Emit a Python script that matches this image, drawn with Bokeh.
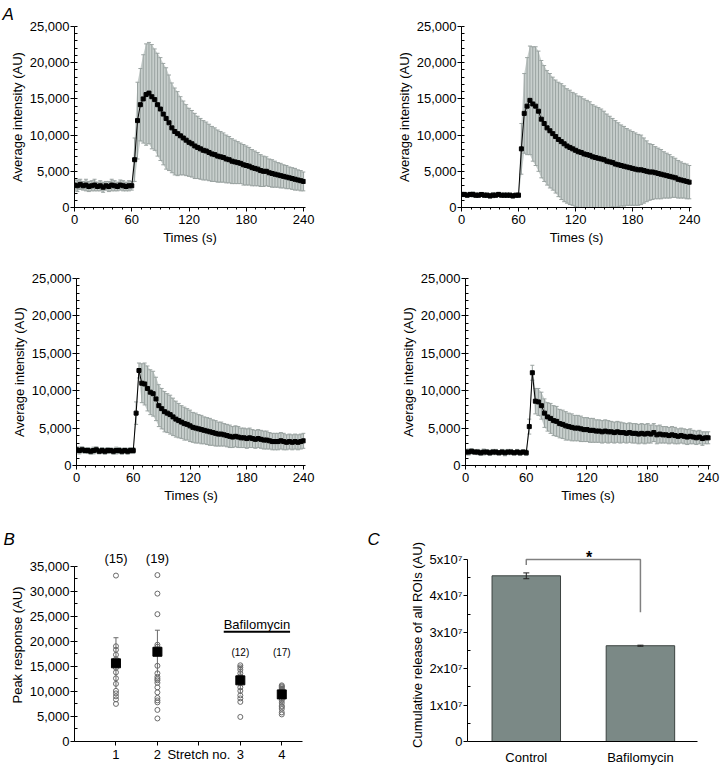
from bokeh.plotting import figure
from bokeh.layouts import column, row
from bokeh.models import (Range1d, SingleIntervalTicker, FixedTicker,
                          NumeralTickFormatter)
from bokeh.core.properties import value
from bokeh.embed import file_html
from bokeh.resources import INLINE

FONT = "Liberation Sans"

# ---------------- data: panel A (mean and SD, in thousands of AU) ----------------
time_s = list(range(0, 241, 3))

a1_mean_k = [3.1, 3.0, 3.2, 3.0, 3.1, 2.9, 3.0, 3.1, 2.9, 3.0, 2.8, 3.0, 2.9, 3.1, 3.0, 2.9, 3.1, 3.0, 2.9, 3.0, 3.0,
             6.6, 12.0, 14.2, 15.0, 15.6, 15.8, 15.3, 14.9, 14.2, 13.6,
             12.9, 12.3, 11.7, 11.0, 10.5, 10.2, 9.9, 9.6, 9.3, 9.0,
             8.8, 8.5, 8.3, 8.1, 7.9, 7.8, 7.6, 7.4, 7.3, 7.1,
             7.0, 6.9, 6.7, 6.6, 6.4, 6.3, 6.2, 6.1, 5.9, 5.8,
             5.7, 5.5, 5.4, 5.3, 5.1, 5.0, 5.0, 4.8, 4.7, 4.6,
             4.5, 4.4, 4.3, 4.2, 4.1, 4.0, 3.9, 3.8, 3.7, 3.6]
a1_sd_k = [0.7, 0.8, 0.7, 0.6, 0.8, 0.7, 0.7, 0.8, 0.6, 0.7, 0.7, 0.6, 0.7, 0.8, 0.7, 0.6, 0.7, 0.7, 0.6, 0.7, 0.6,
           3.0, 5.3, 5.0, 6.1, 7.0, 7.0, 7.2, 7.0, 7.1, 7.1,
           7.0, 7.0, 6.6, 6.2, 6.0, 5.8, 5.4, 5.1, 4.9, 4.7,
           4.6, 4.5, 4.3, 4.2, 4.1, 4.0, 3.9, 3.8, 3.7, 3.6,
           3.5, 3.4, 3.3, 3.2, 3.1, 3.0, 2.9, 2.8, 2.8, 2.7,
           2.6, 2.5, 2.4, 2.3, 2.2, 2.1, 2.0, 1.9, 1.9, 1.8,
           1.7, 1.7, 1.6, 1.6, 1.5, 1.5, 1.5, 1.4, 1.4, 1.3]

a2_mean_k = [1.8, 1.8, 1.7, 1.8, 1.8, 1.7, 1.7, 1.8, 1.7, 1.7, 1.6, 1.7, 1.7, 1.8, 1.7, 1.7, 1.7, 1.7, 1.6, 1.7, 1.7,
             8.1, 13.0, 14.0, 14.8, 14.3, 14.0, 13.3, 12.2, 11.6, 11.0,
             10.6, 10.2, 9.8, 9.4, 9.1, 8.8, 8.5, 8.3, 8.1, 7.9,
             7.7, 7.6, 7.4, 7.3, 7.2, 7.0, 6.9, 6.8, 6.7, 6.6,
             6.4, 6.3, 6.2, 6.0, 5.9, 5.8, 5.7, 5.6, 5.5, 5.4,
             5.3, 5.2, 5.2, 5.1, 5.0, 4.9, 4.9, 4.8, 4.7, 4.6,
             4.5, 4.4, 4.3, 4.2, 4.1, 3.9, 3.8, 3.7, 3.6, 3.5]
a2_sd_k = [0.3, 0.3, 0.25, 0.3, 0.35, 0.3, 0.3, 0.25, 0.3, 0.3, 0.3, 0.35, 0.3, 0.3, 0.25, 0.3, 0.3, 0.3, 0.3, 0.25, 0.3,
           3.5, 5.5, 6.7, 7.5, 7.9, 8.2, 8.3, 8.1, 8.0, 7.9,
           7.9, 7.8, 7.8, 7.9, 8.0, 8.0, 7.9, 7.9, 7.8, 7.8,
           7.7, 7.7, 7.6, 7.5, 7.4, 7.2, 7.1, 7.0, 6.9, 6.7,
           6.5, 6.3, 6.1, 6.0, 5.8, 5.6, 5.5, 5.3, 5.2, 5.1,
           5.0, 4.9, 4.8, 4.5, 4.2, 3.9, 3.8, 3.6, 3.5, 3.4,
           3.2, 3.1, 3.0, 2.8, 2.7, 2.6, 2.5, 2.4, 2.4, 2.3]

a3_mean_k = [2.1, 2.0, 2.1, 2.0, 2.0, 1.9, 2.0, 2.1, 1.9, 2.0, 1.9, 2.0, 2.0, 1.9, 2.0, 2.0, 1.9, 2.0, 1.9, 2.0, 2.0,
             7.0, 12.7, 11.0, 10.9, 10.3, 9.8, 9.6, 8.9, 8.0, 7.6,
             7.2, 7.0, 6.8, 6.5, 6.2, 6.0, 5.8, 5.6, 5.5, 5.3,
             5.1, 5.0, 4.9, 4.8, 4.7, 4.6, 4.5, 4.4, 4.3, 4.2,
             4.2, 4.1, 4.0, 3.9, 3.8, 3.9, 3.8, 3.7, 3.7, 3.6,
             3.7, 3.6, 3.5, 3.6, 3.5, 3.4, 3.4, 3.3, 3.2, 3.2,
             3.2, 3.3, 3.2, 3.1, 3.2, 3.1, 3.2, 3.1, 3.2, 3.3]
a3_sd_k = [0.4, 0.45, 0.4, 0.35, 0.4, 0.4, 0.45, 0.4, 0.35, 0.4, 0.4, 0.4, 0.35, 0.4, 0.45, 0.4, 0.4, 0.35, 0.4, 0.4, 0.4,
           1.5, 1.0, 2.6, 2.8, 3.0, 3.0, 3.0, 2.9, 2.8, 2.7,
           2.7, 2.6, 2.6, 2.5, 2.4, 2.3, 2.2, 2.2, 2.1, 2.1,
           2.0, 2.0, 1.9, 1.9, 1.8, 1.8, 1.8, 1.7, 1.7, 1.6,
           1.6, 1.5, 1.5, 1.5, 1.4, 1.4, 1.4, 1.3, 1.3, 1.3,
           1.3, 1.2, 1.2, 1.2, 1.2, 1.2, 1.2, 1.1, 1.1, 1.1,
           1.1, 1.1, 1.1, 1.0, 1.0, 1.0, 1.0, 1.0, 1.0, 1.0]

a4_mean_k = [1.8, 1.8, 1.9, 1.8, 1.8, 1.7, 1.8, 1.8, 1.7, 1.8, 1.8, 1.7, 1.8, 1.7, 1.8, 1.8, 1.7, 1.8, 1.7, 1.8, 1.7,
             5.2, 12.4, 8.6, 8.5, 8.0, 7.0, 6.5, 6.3, 6.0, 5.9,
             5.6, 5.5, 5.3, 5.2, 5.1, 5.0, 5.0, 4.9, 4.8, 4.8,
             4.7, 4.7, 4.6, 4.6, 4.5, 4.6, 4.5, 4.5, 4.4, 4.5,
             4.4, 4.4, 4.3, 4.4, 4.3, 4.3, 4.2, 4.3, 4.2, 4.3,
             4.2, 4.4, 4.1, 4.2, 4.1, 4.1, 4.0, 4.1, 4.0, 3.9,
             4.0, 3.9, 3.8, 3.9, 3.8, 3.7, 3.8, 3.6, 3.7, 3.7]
a4_sd_k = [0.35, 0.4, 0.35, 0.3, 0.35, 0.35, 0.4, 0.3, 0.35, 0.35, 0.35, 0.3, 0.35, 0.4, 0.35, 0.35, 0.3, 0.35, 0.35, 0.3, 0.35,
           1.0, 1.0, 1.7, 1.8, 1.8, 1.9, 1.9, 2.0, 2.0, 2.0,
           1.9, 1.9, 1.9, 1.8, 1.8, 1.7, 1.7, 1.7, 1.6, 1.6,
           1.6, 1.6, 1.5, 1.5, 1.5, 1.5, 1.5, 1.4, 1.4, 1.4,
           1.4, 1.3, 1.3, 1.3, 1.3, 1.3, 1.3, 1.3, 1.3, 1.3,
           1.2, 1.2, 1.2, 1.2, 1.1, 1.1, 1.1, 1.1, 1.1, 1.0,
           1.0, 1.0, 1.0, 1.0, 0.9, 0.9, 0.9, 0.9, 0.8, 0.8]

# ---------------- data: panel B (peak responses, thousands of AU) ----------------
stretch_pos = [1, 2, 4, 5]
stretch_tick_labels = {1: "1", 2: "2", 3: "Stretch no.", 4: "3", 5: "4"}
peak_s1_k = [33.1, 19.0, 18.3, 17.3, 16.4, 15.2, 14.7, 13.8, 12.6, 11.5, 10.1, 9.6, 9.0, 8.4, 7.5]
peak_s2_k = [33.2, 29.5, 25.4, 19.3, 18.9, 17.9, 15.1, 13.6, 12.9, 12.5, 12.2, 11.7, 10.8, 9.8, 8.7, 8.2, 7.8, 6.3, 4.6]
peak_s3_k = [15.2, 14.8, 14.3, 13.6, 13.0, 11.7, 10.8, 10.1, 9.2, 8.6, 7.9, 4.9]
peak_s4_k = [11.2, 11.0, 10.8, 10.5, 10.3, 9.8, 9.6, 9.2, 8.9, 8.5, 8.2, 7.7, 7.1, 6.9, 6.5, 5.8, 5.4]
peak_mean_k = [15.6, 17.9, 12.2, 9.4]
peak_sd_k = [5.1, 4.3, 2.8, 1.6]

# ---------------- data: panel C ----------------
conditions = ["Control", "Bafilomycin"]
cond_pos = [1, 2]
release_mean = [4.55e7, 2.63e7]
release_err = [0.08e7, 0.015e7]
sig_bracket_y = [4.85e7, 5.0e7, 5.0e7, 3.55e7]
c_ticks = [0, 10000000, 20000000, 30000000, 40000000, 50000000]
c_tick_labels = {0: "0", 10000000: "1x10\u2077", 20000000: "2x10\u2077",
                 30000000: "3x10\u2077", 40000000: "4x10\u2077", 50000000: "5x10\u2077"}

BAND = "#c8cfcd"
ERR = "#9aa3a1"


def base_style(p):
    p.outline_line_color = None
    p.xgrid.visible = False
    p.ygrid.visible = False
    p.background_fill_color = "white"
    p.border_fill_color = "white"
    for ax in p.axis:
        ax.axis_line_color = "black"
        ax.axis_line_width = 1
        ax.major_tick_line_color = "black"
        ax.minor_tick_line_color = "black"
        ax.major_tick_out = 4
        ax.major_tick_in = 0
        ax.major_label_text_font = FONT
        ax.major_label_text_font_size = "13px"
        ax.major_label_text_color = "black"
        ax.axis_label_text_font = FONT
        ax.axis_label_text_font_size = "13px"
        ax.axis_label_text_font_style = "normal"
        ax.axis_label_text_color = "black"
        ax.major_label_standoff = 1
        ax.axis_label_standoff = 3
    for ax in p.yaxis:
        ax.minor_tick_in = 3
        ax.minor_tick_out = 0
        ax.axis_label_standoff = 2
    for ax in p.xaxis:
        ax.minor_tick_in = 0
        ax.minor_tick_out = 2
        ax.major_label_standoff = 3


def letter(p, txt, offset, standoff=0):
    p.title.text = txt
    p.title.align = "left"
    p.title.offset = offset
    p.title.standoff = standoff
    p.title.text_font = FONT
    p.title.text_font_size = "17px"
    p.title.text_font_style = "italic"
    p.title.text_color = "black"


def trace_panel(mean_k, sd_k, width, height, bl, br, bt, bb):
    p = figure(width=width, height=height, x_range=Range1d(0, 242), y_range=Range1d(0, 25000),
               min_border_left=bl, min_border_right=br, min_border_top=bt, min_border_bottom=bb,
               output_backend="svg", toolbar_location=None)
    mean = [m * 1000 for m in mean_k]
    up = [(m + s) * 1000 for m, s in zip(mean_k, sd_k)]
    lo = [(m - s) * 1000 for m, s in zip(mean_k, sd_k)]
    p.varea(x=time_s, y1=lo, y2=up, fill_color=BAND)
    p.segment(x0=time_s, y0=lo, x1=time_s, y1=up, line_color=ERR, line_width=1)
    p.scatter(x=time_s, y=up, marker="dash", size=4, line_color=ERR, line_width=1)
    p.scatter(x=time_s, y=lo, marker="dash", size=4, line_color=ERR, line_width=1)
    p.line(x=time_s, y=mean, line_color="black", line_width=1)
    p.scatter(x=time_s, y=mean, marker="square", size=4, fill_color="black", line_color="black")
    p.xaxis.ticker = SingleIntervalTicker(interval=60, num_minor_ticks=6)
    p.yaxis.ticker = SingleIntervalTicker(interval=5000, num_minor_ticks=5)
    p.yaxis.formatter = NumeralTickFormatter(format="0,0")
    p.xaxis.axis_label = "Times (s)"
    p.yaxis.axis_label = "Average intensity (AU)"
    base_style(p)
    return p


a1 = trace_panel(a1_mean_k, a1_sd_k, 388, 258, 74, 83, 26, 46)
a2 = trace_panel(a2_mean_k, a2_sd_k, 332, 258, 73, 29, 20, 51)
a3 = trace_panel(a3_mean_k, a3_sd_k, 388, 258, 76, 83, 20, 51)
a4 = trace_panel(a4_mean_k, a4_sd_k, 332, 258, 77, 10, 8, 48)
letter(a1, "A", -72, 5)

# ---------------- panel B ----------------
b = figure(width=363, height=254, x_range=Range1d(0, 5.5), y_range=Range1d(0, 38500),
           min_border_left=74, min_border_right=61, min_border_top=32, min_border_bottom=20,
           output_backend="svg", toolbar_location=None)
groups = [peak_s1_k, peak_s2_k, peak_s3_k, peak_s4_k]
for xpos, vals in zip(stretch_pos, groups):
    b.scatter(x=[xpos] * len(vals), y=[v * 1000 for v in vals], marker="circle", size=5,
              fill_color=None, line_color="#6a6a6a", line_width=1)
b_lo = [(m - s) * 1000 for m, s in zip(peak_mean_k, peak_sd_k)]
b_up = [(m + s) * 1000 for m, s in zip(peak_mean_k, peak_sd_k)]
b.segment(x0=stretch_pos, y0=b_lo, x1=stretch_pos, y1=b_up, line_color="#6a6a6a", line_width=1)
b.scatter(x=stretch_pos, y=b_up, marker="dash", size=5, line_color="#6a6a6a", line_width=1)
b.scatter(x=stretch_pos, y=[m * 1000 for m in peak_mean_k], marker="square", size=9,
          fill_color="black", line_color="black")
n_text = ["(%d)" % len(g) for g in groups]
b.text(x=stretch_pos[:2], y=[36500, 36500], text=n_text[:2], text_font=value(FONT),
       text_font_size="13px", text_align="center", text_baseline="middle", text_color="black")
b.text(x=stretch_pos[2:], y=[17700, 17700], text=n_text[2:], text_font=value(FONT),
       text_font_size="10px", text_align="center", text_baseline="middle", text_color="black")
b.text(x=[4.4], y=[23400], text=["Bafilomycin"], text_font=value(FONT), text_font_size="13px",
       text_align="center", text_baseline="middle", text_color="black")
b.line(x=[3.6, 5.2], y=[21900, 21900], line_color="black", line_width=2)
b.xaxis.ticker = FixedTicker(ticks=list(stretch_tick_labels.keys()), minor_ticks=[])
b.xaxis.major_label_overrides = stretch_tick_labels
b.yaxis.ticker = SingleIntervalTicker(interval=5000, num_minor_ticks=2)
b.yaxis.formatter = NumeralTickFormatter(format="0,0")
b.yaxis.bounds = (0, 35000)
b.yaxis.axis_label = "Peak response (AU)"
base_style(b)
b.xaxis.major_label_standoff = 1
letter(b, "B", -71)

# ---------------- panel C ----------------
c = figure(width=357, height=254, x_range=Range1d(0.485, 2.5), y_range=Range1d(0, 5.3e7),
           min_border_left=104, min_border_right=23, min_border_top=31, min_border_bottom=29,
           output_backend="svg", toolbar_location=None)
c.vbar(x=cond_pos, top=release_mean, bottom=0, width=0.6, fill_color="#7b8986",
       line_color="#3b4341", line_width=1)
c_lo = [m - e for m, e in zip(release_mean, release_err)]
c_up = [m + e for m, e in zip(release_mean, release_err)]
c.segment(x0=cond_pos, y0=c_lo, x1=cond_pos, y1=c_up, line_color="#222222", line_width=1)
c.scatter(x=cond_pos, y=c_up, marker="dash", size=6, line_color="#222222", line_width=1)
c.scatter(x=cond_pos, y=c_lo, marker="dash", size=6, line_color="#222222", line_width=1)
c.line(x=[cond_pos[0], cond_pos[0], cond_pos[1], cond_pos[1]], y=sig_bracket_y,
       line_color="#808080", line_width=1.5)
c.text(x=[1.55], y=[5.06e7], text=["*"], text_font=value(FONT), text_font_size="16px",
       text_font_style="bold", text_align="center", text_baseline="middle", text_color="black")
c.xaxis.ticker = FixedTicker(ticks=cond_pos, minor_ticks=[])
c.xaxis.major_label_overrides = {k: v for k, v in zip(cond_pos, conditions)}
c.yaxis.ticker = FixedTicker(ticks=c_ticks, minor_ticks=[t + 5000000 for t in c_ticks[:-1]])
c.yaxis.major_label_overrides = c_tick_labels
c.yaxis.bounds = (0, 5e7)
c.yaxis.axis_label = "Cumulative release of all ROIs (AU)"
base_style(c)
c.xaxis.major_tick_out = 0
c.xaxis.major_label_standoff = 8
letter(c, "C", -100)

layout = column(row(a1, a2), row(a3, a4), row(b, c))
open("out.html", "w").write(file_html(layout, INLINE))
